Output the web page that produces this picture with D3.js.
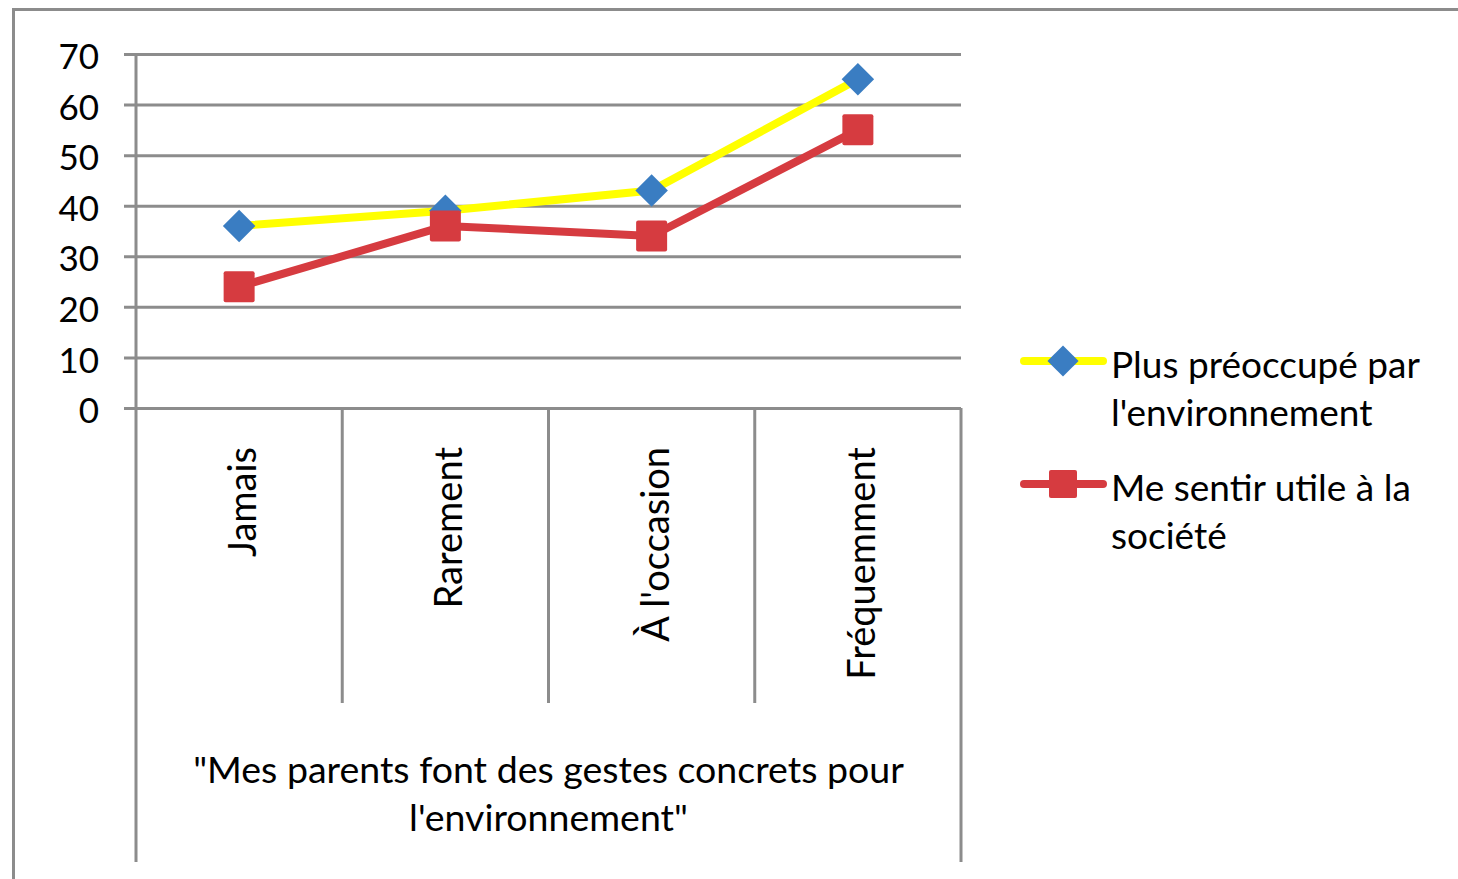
<!DOCTYPE html>
<html><head><meta charset="utf-8">
<script src="https://cdn.jsdelivr.net/npm/d3@7"></script>
<style>body{margin:0;background:#fff;}svg{display:block;font-family:Lato,"Open Sans",sans-serif;}</style>
</head><body>
<script>
const categories = ["Jamais", "Rarement", "À l'occasion", "Fréquemment"];
const seriesNames = ["Plus préoccupé par l'environnement", "Me sentir utile à la société"];
const preoccupe = [36, 39, 43, 65];
const utile = [24, 36, 34, 55];
const yTicks = [0, 10, 20, 30, 40, 50, 60, 70];
const axisTitle = ["\"Mes parents font des gestes concrets pour", "l'environnement\""];
const legendLines = [["Plus préoccupé par", "l'environnement"], ["Me sentir utile à la", "société"]];

const W = 1458, H = 879;
const grey = "#8c8c8c";
const svg = d3.select("body").append("svg").attr("width", W).attr("height", H);

// outer frame
svg.append("rect").attr("x", 13.5).attr("y", 9.5).attr("width", 1470).attr("height", 900)
  .attr("fill", "none").attr("stroke", grey).attr("stroke-width", 3);

const x0 = 136, x1 = 961, yTop = 54, yBot = 408;
const x = d3.scaleBand().domain(categories).range([x0, x1]).padding(0);
const y = d3.scaleLinear().domain([0, 70]).range([yBot, yTop]);

// gridlines + ticks
const yAxis = d3.axisLeft(y).tickValues(yTicks).tickSize(-(x1 - x0)).tickSizeOuter(0).tickPadding(0).tickFormat(() => "");
const ga = svg.append("g").attr("transform", `translate(${x0},0)`).call(yAxis);
ga.select(".domain").remove();
ga.selectAll(".tick line").attr("x1", -12).attr("stroke", grey).attr("stroke-width", 3);
ga.selectAll(".tick").append("text").attr("x", -37).attr("dy", "0.42em")
  .attr("text-anchor", "end").attr("fill", "#000").attr("font-size", 35)
  .style("font-family", "Lato, sans-serif").text(d => d);

// vertical axis line (left), extends down
svg.append("line").attr("x1", x0).attr("x2", x0).attr("y1", yTop).attr("y2", 862)
  .attr("stroke", grey).attr("stroke-width", 3);
svg.append("line").attr("x1", x1).attr("x2", x1).attr("y1", yBot).attr("y2", 862)
  .attr("stroke", grey).attr("stroke-width", 3);
// category separators
categories.slice(1).forEach(c => {
  svg.append("line").attr("x1", x(c)).attr("x2", x(c)).attr("y1", yBot).attr("y2", 703)
    .attr("stroke", grey).attr("stroke-width", 3);
});

// category labels
categories.forEach(c => {
  const cx = x(c) + x.bandwidth() / 2;
  svg.append("text").attr("transform", `translate(${cx + 17},447) rotate(-90)`)
    .attr("text-anchor", "end").attr("font-size", 38).attr("fill", "#000").text(c);
});

// axis title
axisTitle.forEach((t, i) => {
  svg.append("text").attr("x", (x0 + x1) / 2).attr("y", 783 + i * 48)
    .attr("text-anchor", "middle").attr("font-size", 37.5).attr("fill", "#000").text(t);
});

const cx = c => x(c) + x.bandwidth() / 2;
const line = d3.line().x((d, i) => cx(categories[i])).y(d => y(d));
const yellow = "#ffff00", blue = "#3a7dc2", red = "#d63b40";

svg.append("path").datum(preoccupe).attr("d", line).attr("fill", "none")
  .attr("stroke", yellow).attr("stroke-width", 8).attr("stroke-linejoin", "round");
svg.selectAll(".dia").data(preoccupe).enter().append("rect").attr("class", "dia")
  .attr("x", -11.5).attr("y", -11.5).attr("width", 23).attr("height", 23)
  .attr("transform", (d, i) => `translate(${cx(categories[i])},${y(d)}) rotate(45)`)
  .attr("fill", blue);

svg.append("path").datum(utile).attr("d", line).attr("fill", "none")
  .attr("stroke", red).attr("stroke-width", 8).attr("stroke-linejoin", "round");
svg.selectAll(".sq").data(utile).enter().append("rect").attr("class", "sq")
  .attr("x", d => 0).attr("y", 0).attr("width", 31).attr("height", 31).attr("rx", 2)
  .attr("transform", (d, i) => `translate(${cx(categories[i]) - 15.5},${y(d) - 15.5})`)
  .attr("fill", red);

// legend
const legY = [361, 484];
const legColors = [[yellow, blue, "dia"], [red, red, "sq"]];
legY.forEach((ly, k) => {
  svg.append("line").attr("x1", 1024).attr("x2", 1103).attr("y1", ly).attr("y2", ly)
    .attr("stroke", legColors[k][0]).attr("stroke-width", 8).attr("stroke-linecap", "round");
  if (legColors[k][2] === "dia") {
    svg.append("rect").attr("x", -11).attr("y", -11).attr("width", 22).attr("height", 22)
      .attr("transform", `translate(1063,${ly}) rotate(45)`).attr("fill", legColors[k][1]);
  } else {
    svg.append("rect").attr("x", 1063 - 14).attr("y", ly - 14).attr("width", 28).attr("height", 28)
      .attr("rx", 2).attr("fill", legColors[k][1]);
  }
  legendLines[k].forEach((t, j) => {
    svg.append("text").attr("x", 1111).attr("y", ly + 17 + j * 48).attr("font-size", 37)
      .attr("fill", "#000").text(t);
  });
});
</script>
</body></html>
